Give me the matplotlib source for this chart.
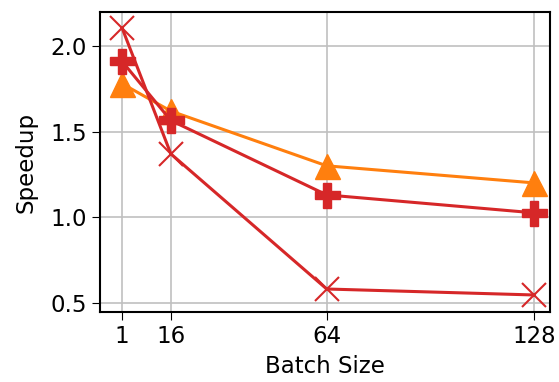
import matplotlib
matplotlib.use("Agg")
import matplotlib.pyplot as plt

batch_sizes = [1, 16, 64, 128]
speedup_tri = [1.78, 1.62, 1.30, 1.20]
speedup_plus = [1.91, 1.565, 1.13, 1.025]
speedup_x = [2.105, 1.37, 0.58, 0.545]

fig = plt.figure(figsize=(5.59, 3.82), dpi=100)
ax = fig.add_axes([0.179, 0.183, 0.805, 0.786])

ax.plot(batch_sizes, speedup_tri, color="#ff7f0e", marker="^", markersize=18, linewidth=2.2)
ax.plot(batch_sizes, speedup_plus, color="#d62728", marker="P", markersize=18, linewidth=2.2)
ax.plot(batch_sizes, speedup_x, color="#d62728", marker="x", markersize=17,
        markeredgewidth=1.5, linewidth=2.2)

ax.set_xlim(-5.8, 132.8)
ax.set_ylim(0.445, 2.2)
ax.set_xticks(batch_sizes)
ax.set_xticklabels([str(b) for b in batch_sizes])
ax.set_yticks([0.5, 1.0, 1.5, 2.0])
ax.tick_params(labelsize=16.5, length=6)
ax.grid(True, color="#c0c0c0", linewidth=1.2)
ax.set_axisbelow(True)
for s in ax.spines.values():
    s.set_linewidth(1.5)

ax.set_xlabel("Batch Size", fontsize=16.5, labelpad=5)
ax.set_ylabel("Speedup", fontsize=16.5, labelpad=9)

fig.savefig("out.png", dpi=100)
